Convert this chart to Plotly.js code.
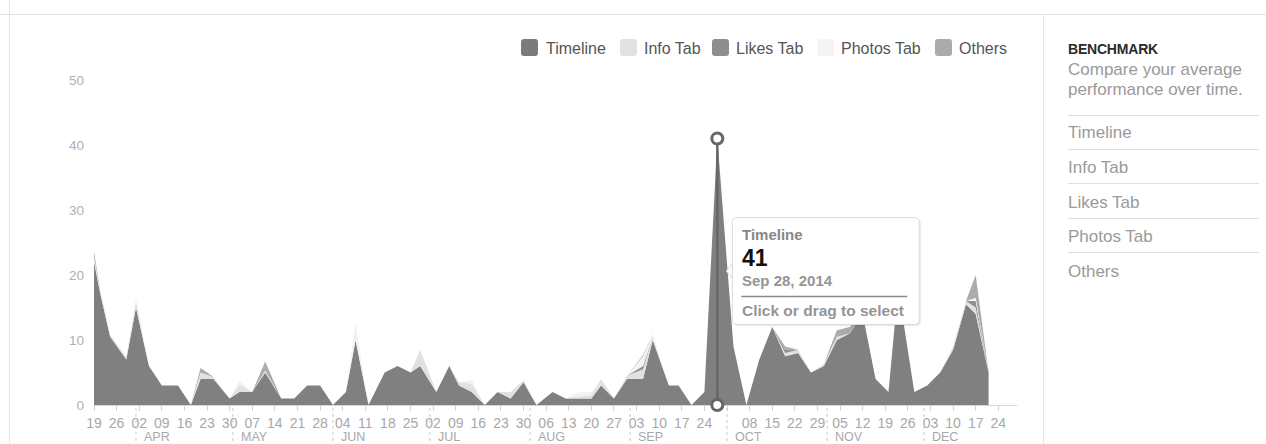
<!DOCTYPE html>
<html>
<head>
<meta charset="utf-8">
<script src="https://cdn.plot.ly/plotly-3.0.1.min.js"></script>
<style>
html,body{margin:0;padding:0;background:#fff;width:1266px;height:444px;overflow:hidden;font-family:"Liberation Sans",Arial,Helvetica,sans-serif;}
#chart{position:absolute;left:0;top:0;width:1266px;height:444px;}
.hl{position:absolute;height:1px;background:#e2e2e2;}
.vl{position:absolute;width:1px;background:#e6e6e6;}
.side{position:absolute;left:1068px;white-space:nowrap;}
.sbtitle{font-weight:bold;font-size:14px;line-height:14px;color:#2a2a2a;letter-spacing:-0.2px;}
.sbdesc{font-size:17px;line-height:20px;color:#9a9a9a;}
.sbitem{font-size:17px;line-height:20px;color:#9a9a9a;}
.sbline{position:absolute;left:1068px;width:191px;height:1px;background:#dedede;}
</style>
</head>
<body>
<div id="chart"></div>
<div class="hl" style="left:0;top:14px;width:1266px;"></div>
<div class="vl" style="left:9px;top:0;height:444px;"></div>
<div class="vl" style="left:1043px;top:15px;height:429px;"></div>
<div class="side sbtitle" style="top:41.7px;">BENCHMARK</div>
<div class="side sbdesc" style="top:59.5px;">Compare your average<br>performance over time.</div>
<div class="sbline" style="top:115px;"></div>
<div class="side sbitem" style="top:123px;">Timeline</div>
<div class="sbline" style="top:149px;"></div>
<div class="side sbitem" style="top:158px;">Info Tab</div>
<div class="sbline" style="top:183px;"></div>
<div class="side sbitem" style="top:192.5px;">Likes Tab</div>
<div class="sbline" style="top:218px;"></div>
<div class="side sbitem" style="top:226.5px;">Photos Tab</div>
<div class="sbline" style="top:252px;"></div>
<div class="side sbitem" style="top:261.5px;">Others</div>
<script>
// ---------------- DATA ----------------
const dates = [
 '2014-03-19','2014-03-21','2014-03-24','2014-03-29','2014-04-01','2014-04-05','2014-04-09','2014-04-14',
 '2014-04-18','2014-04-21','2014-04-25','2014-04-30','2014-05-03','2014-05-07','2014-05-11','2014-05-16',
 '2014-05-20','2014-05-24','2014-05-28','2014-06-01','2014-06-05','2014-06-08','2014-06-12','2014-06-17',
 '2014-06-21','2014-06-25','2014-06-28','2014-07-03','2014-07-07','2014-07-10','2014-07-14','2014-07-18',
 '2014-07-22','2014-07-26','2014-07-30','2014-08-03','2014-08-08','2014-08-12','2014-08-16','2014-08-20',
 '2014-08-23','2014-08-27','2014-08-31','2014-09-05','2014-09-08','2014-09-13','2014-09-16','2014-09-20',
 '2014-09-24','2014-09-28','2014-10-03','2014-10-07','2014-10-11','2014-10-15','2014-10-19','2014-10-23',
 '2014-10-27','2014-10-31','2014-11-04','2014-11-08','2014-11-12','2014-11-16','2014-11-20','2014-11-23',
 '2014-11-28','2014-12-02','2014-12-06','2014-12-10','2014-12-14','2014-12-17','2014-12-21'
];
const timeline = [
 22,17,10.5,7,15,6,3,3, 0,4,4,1,2,2,5,1, 1,3,3,0,2,10,0,5, 6,5,6,2,6,3,2,0,
 2,1,3.5,0,2,1,1,1, 3,1,4,4,10,3,3,0, 2,41,9,0,7,12,7.5,8, 5,6,10,11,14,4,2,18,
 2,3,5,8.5,15.5,14,5
];
const infoTab = [
 1,0.5,0.3,0.4,1,0,0,0, 0,1,0.3,0,1.2,0,0.3,0, 0,0,0,0,0,0,0,0, 0,0,2.5,0,0,0.5,1.3,0,
 0,1,0.3,0,0,0,0.3,0.5, 1,0,0.5,1.5,0.5,0,0,0, 0,0,0,0,0,0,0.5,0.5, 0,0.3,0.5,0,0,0,0,0,
 0,0,0,0.5,0.5,1,0
];
const likesTab = [
 0.5,0,0,0,0,0,0,0, 0,0,0,0,0,0,0,0, 0,0,0,0,0,0,0,0, 0,0,0,0,0,0,0,0,
 0,0,0,0,0,0,0,0, 0,0,0,0.5,0,0,0,0, 0,0,0,0,0,0,0.5,0, 0,0,0,0,0,0,0,0,
 0,0,0,0,0,1,0
];
const photosTab = [
 0,0,0,0,0.5,0,0,0, 0,0,0,0,0.5,0,0,0, 0,0,0,0,0,2.6,0,0, 0,0,0,0,0,0,0.5,0,
 0,0,0,0,0,0,0.7,0.5, 0,0,0,1.5,0.5,0,0,0, 0,0,0,0,0,0,0,0, 0,0,0,0,0,0,0,0,
 0,0,0,0,0,0.5,0
];
const others = [
 0,0,0,0,0,0,0,0, 0,0.7,0,0,0,0,1.4,0, 0,0,0,0,0,0,0,0, 0,0,0,0,0,0,0,0,
 0,0,0,0,0,0,0,0, 0,0,0,0.2,0,0,0,0, 0,0,0,0,0,0,0.5,0, 0,0,1,1,0,0,0,0,
 0,0,0,0,0,3.5,0
];
const seriesNames = ['Timeline','Info Tab','Likes Tab','Photos Tab','Others'];
const tickDates = [
 '2014-03-19','2014-03-26','2014-04-02','2014-04-09','2014-04-16','2014-04-23','2014-04-30','2014-05-07',
 '2014-05-14','2014-05-21','2014-05-28','2014-06-04','2014-06-11','2014-06-18','2014-06-25','2014-07-02',
 '2014-07-09','2014-07-16','2014-07-23','2014-07-30','2014-08-06','2014-08-13','2014-08-20','2014-08-27',
 '2014-09-03','2014-09-10','2014-09-17','2014-09-24','2014-10-01','2014-10-08','2014-10-15','2014-10-22',
 '2014-10-29','2014-11-05','2014-11-12','2014-11-19','2014-11-26','2014-12-03','2014-12-10','2014-12-17',
 '2014-12-24'
];
const tickLabels = [
 '19','26','02','09','16','23','30','07','14','21','28','04','11','18','25','02',
 '09','16','23','30','06','13','20','27','03','10','17','24','','08','15','22',
 '29','05','12','19','26','03','10','17','24'
];
const monthStarts = ['2014-04-01','2014-05-01','2014-06-01','2014-07-01','2014-08-01','2014-09-01','2014-10-01','2014-11-01','2014-12-01'];
const monthLabels = ['APR','MAY','JUN','JUL','AUG','SEP','OCT','NOV','DEC'];
const yTicks = [0,10,20,30,40,50];

// ---------------- STYLE ----------------
const fills = ['#808080','#e1e1e1','#8f8f8f','#f2f2f2','#ababab'];
const swatch = ['#7b7b7b','#e2e2e2','#8e8e8e','#f4f4f4','#ababab'];
const FONT = 'Liberation Sans, Arial, Helvetica, sans-serif';
const L = 94, R = 1017, T = 80, B = 405;

const values = [timeline, infoTab, likesTab, photosTab, others];
const traces = values.map((v, i) => ({
  type: 'scatter', mode: 'lines', name: seriesNames[i],
  x: dates, y: v, stackgroup: 'one',
  fillcolor: fills[i], line: {width: 0, color: fills[i]},
  hoverinfo: 'skip'
}));

// peak (hovered point) from data
let pk = 0;
timeline.forEach((v, i) => { if (v > timeline[pk]) pk = i; });
const peakDate = dates[pk], peakVal = timeline[pk];
const mNames = ['Jan','Feb','Mar','Apr','May','Jun','Jul','Aug','Sep','Oct','Nov','Dec'];
const pd = peakDate.split('-');
const peakLabel = mNames[+pd[1]-1] + ' ' + (+pd[2]) + ', ' + pd[0];

function rr(x0, x1, y0, y1, r, notch) { // y0 top (larger), y1 bottom, pixel offsets (y up)
  let p = `M${x0+r},${y0} H${x1-r} Q${x1},${y0} ${x1},${y0-r} V${y1+r} Q${x1},${y1} ${x1-r},${y1} H${x0+r} Q${x0},${y1} ${x0},${y1+r}`;
  if (notch) p += ` V${notch[0]} L${notch[2]},${(notch[0]+notch[1])/2} L${x0},${notch[1]}`;
  p += ` V${y0-r} Q${x0},${y0} ${x0+r},${y0} Z`;
  return p;
}

const shapes = [];
const annotations = [];

// month separators + labels
monthStarts.forEach((m, i) => {
  shapes.push({type:'line', xref:'x', x0:m, x1:m, yref:'paper', ysizemode:'pixel', yanchor:0, y0:-3, y1:-40,
    line:{color:'#c9c9c9', width:1, dash:'dot'}});
  annotations.push({xref:'x', x:m, xanchor:'left', xshift:7, yref:'paper', y:0, yanchor:'middle', yshift:-31.5,
    borderpad:0, text:monthLabels[i], showarrow:false, font:{family:FONT, size:12.5, color:'#a8a8a8'}});
});

// hover line + markers
shapes.push({type:'line', xref:'x', x0:peakDate, x1:peakDate, yref:'y', y0:0, y1:peakVal, line:{color:'#666', width:2.5}});
[[ 'y', peakVal ], ['paper', 0]].forEach(([yr, yv]) => {
  shapes.push({type:'circle', xref:'x', xsizemode:'pixel', xanchor:peakDate, x0:-5.5, x1:5.5,
    yref:yr, ysizemode:'pixel', yanchor:yv, y0:-5.5, y1:5.5, fillcolor:'#fff', line:{color:'#666', width:3}});
});

// tooltip box
const tb = {x0:15, x1:202, y0:-79, y1:-186};
[[2,-2,'rgba(0,0,0,0.05)'],[1,-1,'rgba(0,0,0,0.06)']].forEach(([dx,dy,c]) => {
  shapes.push({type:'path', xref:'x', xsizemode:'pixel', xanchor:peakDate, yref:'y', ysizemode:'pixel', yanchor:peakVal,
    path: rr(tb.x0+dx, tb.x1+dx, tb.y0+dy, tb.y1+dy, 5), fillcolor:c, line:{width:0}});
});
shapes.push({type:'path', xref:'x', xsizemode:'pixel', xanchor:peakDate, yref:'y', ysizemode:'pixel', yanchor:peakVal,
  path: rr(tb.x0, tb.x1, tb.y0, tb.y1, 5, [-125, -140, 9]), fillcolor:'#fff', line:{color:'#dcdcdc', width:1}});
shapes.push({type:'line', xref:'x', xsizemode:'pixel', xanchor:peakDate, x0:24, x1:190,
  yref:'y', ysizemode:'pixel', yanchor:peakVal, y0:-158, y1:-158, line:{color:'#8a8a8a', width:1.5}});
const tipLines = [
  [seriesNames[0], -96, 15, '#878787'],
  [String(peakVal), -119, 23, '#111111'],
  [peakLabel, -142, 15, '#959595'],
  ['Click or drag to select', -172, 15.5, '#959595']
];
tipLines.forEach(([t, ys, sz, c]) => {
  annotations.push({xref:'x', x:peakDate, xanchor:'left', xshift:23, yref:'y', y:peakVal, yanchor:'middle', yshift:ys,
    text:t, showarrow:false, font:{family:FONT, size:sz, color:c, weight:'bold'}});
});

// custom legend
const legSw = [521, 620, 712, 817, 935];
const legTx = [545, 643, 735, 840, 958];
seriesNames.forEach((n, i) => {
  shapes.push({type:'path', xref:'paper', xsizemode:'pixel', xanchor:0, yref:'paper', ysizemode:'pixel', yanchor:1,
    path: rr(legSw[i]-L, legSw[i]+17-L, T-39, T-56, 3), fillcolor:swatch[i], line:{width:0}});
  annotations.push({xref:'paper', x:0, xanchor:'left', xshift:legTx[i]-L-1, yref:'paper', y:1, yanchor:'middle', yshift:T-48,
    text:n, showarrow:false, font:{family:FONT, size:16, color:'#555'}});
});

const layout = {
  width:1266, height:444,
  margin:{l:L, r:1266-R, t:T, b:444-B, pad:0},
  paper_bgcolor:'rgba(0,0,0,0)', plot_bgcolor:'rgba(0,0,0,0)',
  showlegend:false,
  font:{family:FONT},
  xaxis:{type:'date', range:['2014-03-19','2014-12-29 19:00'], tickmode:'array', tickvals:tickDates, ticktext:tickLabels,
    ticks:'outside', ticklen:5, tickcolor:'#d2d2d2', showline:true, linecolor:'#d6d6d6', linewidth:1,
    showgrid:false, zeroline:false, tickfont:{family:FONT, size:14, color:'#a8a8a8'}, fixedrange:true},
  yaxis:{range:[0,50], tickmode:'array', tickvals:yTicks, showgrid:false, zeroline:false, showline:false,
    ticks:'', ticklabelstandoff:9, tickfont:{family:FONT, size:13.5, color:'#b0b0b0'}, fixedrange:true},
  shapes: shapes,
  annotations: annotations
};

Plotly.newPlot('chart', traces, layout, {staticPlot:true, displayModeBar:false});
</script>
</body>
</html>
